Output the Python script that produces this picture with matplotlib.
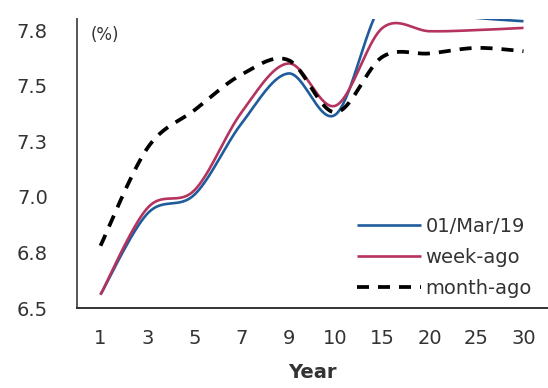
import numpy as np
import matplotlib
matplotlib.use("Agg")
import matplotlib.pyplot as plt

categories = ["1", "3", "5", "7", "9", "10", "15", "20", "25", "30"]
current = [6.56, 6.925, 7.01, 7.33, 7.555, 7.37, 7.87, 7.83, 7.805, 7.79]
week_ago = [6.56, 6.95, 7.03, 7.38, 7.60, 7.41, 7.76, 7.745, 7.75, 7.76]
month_ago = [6.78, 7.22, 7.39, 7.55, 7.615, 7.38, 7.63, 7.645, 7.67, 7.655]
ytick_vals = [6.5, 6.75, 7.0, 7.25, 7.5, 7.75]
ytick_labels = ["6.5", "6.8", "7.0", "7.3", "7.5", "7.8"]


def smooth(xs, ys, n=40):
    xs = np.asarray(xs, float)
    ys = np.asarray(ys, float)
    P = np.column_stack([xs, ys])
    out = []
    m = len(P)
    for i in range(m - 1):
        p0 = P[max(i - 1, 0)]
        p1 = P[i]
        p2 = P[i + 1]
        p3 = P[min(i + 2, m - 1)]
        c1 = p1 + (p2 - p0) / 6.0
        c2 = p2 - (p3 - p1) / 6.0
        t = np.linspace(0, 1, n)[:, None]
        seg = ((1 - t) ** 3) * p1 + 3 * ((1 - t) ** 2) * t * c1 + 3 * (1 - t) * t ** 2 * c2 + t ** 3 * p2
        if i > 0:
            seg = seg[1:]
        out.append(seg)
    out = np.vstack(out)
    return out[:, 0], out[:, 1]


fig = plt.figure(figsize=(5.48, 3.88), dpi=100)
ax = fig.add_axes([77 / 548, 1 - 308 / 388, 470 / 548, 289 / 388])

x = np.arange(len(categories))
txt = "#333333"

sx, sy = smooth(x, current)
ax.plot(sx, sy, color="#1f5c9c", lw=1.9, label="01/Mar/19", solid_capstyle="butt")
sx, sy = smooth(x, week_ago)
ax.plot(sx, sy, color="#b5335f", lw=1.9, label="week-ago", solid_capstyle="butt")
sx, sy = smooth(x, month_ago)
ax.plot(sx, sy, color="black", lw=2.7, ls=(0, (3.2, 2.4)), label="month-ago", dash_capstyle="butt")

ax.set_xlim(-0.5, len(categories) - 0.5)
ax.set_ylim(6.5, 7.8)
ax.set_xticks(x)
ax.set_xticklabels(categories)
ax.set_yticks(ytick_vals)
ax.set_yticklabels(ytick_labels)
ax.tick_params(axis="both", length=0, labelsize=14, colors=txt)
ax.tick_params(axis="y", pad=21)
ax.tick_params(axis="x", pad=15)

for s in ["top", "right"]:
    ax.spines[s].set_visible(False)
ax.spines["left"].set_color("#555555")
ax.spines["left"].set_linewidth(1.4)
ax.spines["bottom"].set_color("#333333")
ax.spines["bottom"].set_linewidth(1.4)

ax.set_xlabel("Year", fontsize=14, color=txt, fontweight="bold", labelpad=11)
ax.text(0.03, 0.975, "(%)", transform=ax.transAxes, fontsize=12, color=txt, va="top", ha="left")

leg = ax.legend(loc="lower right", bbox_to_anchor=(0.997, -0.012), frameon=False,
                fontsize=14, handlelength=3.3, handletextpad=0.25, labelspacing=0.62,
                borderaxespad=0.3)
for t in leg.get_texts():
    t.set_color(txt)

fig.savefig("out.png", dpi=100)
